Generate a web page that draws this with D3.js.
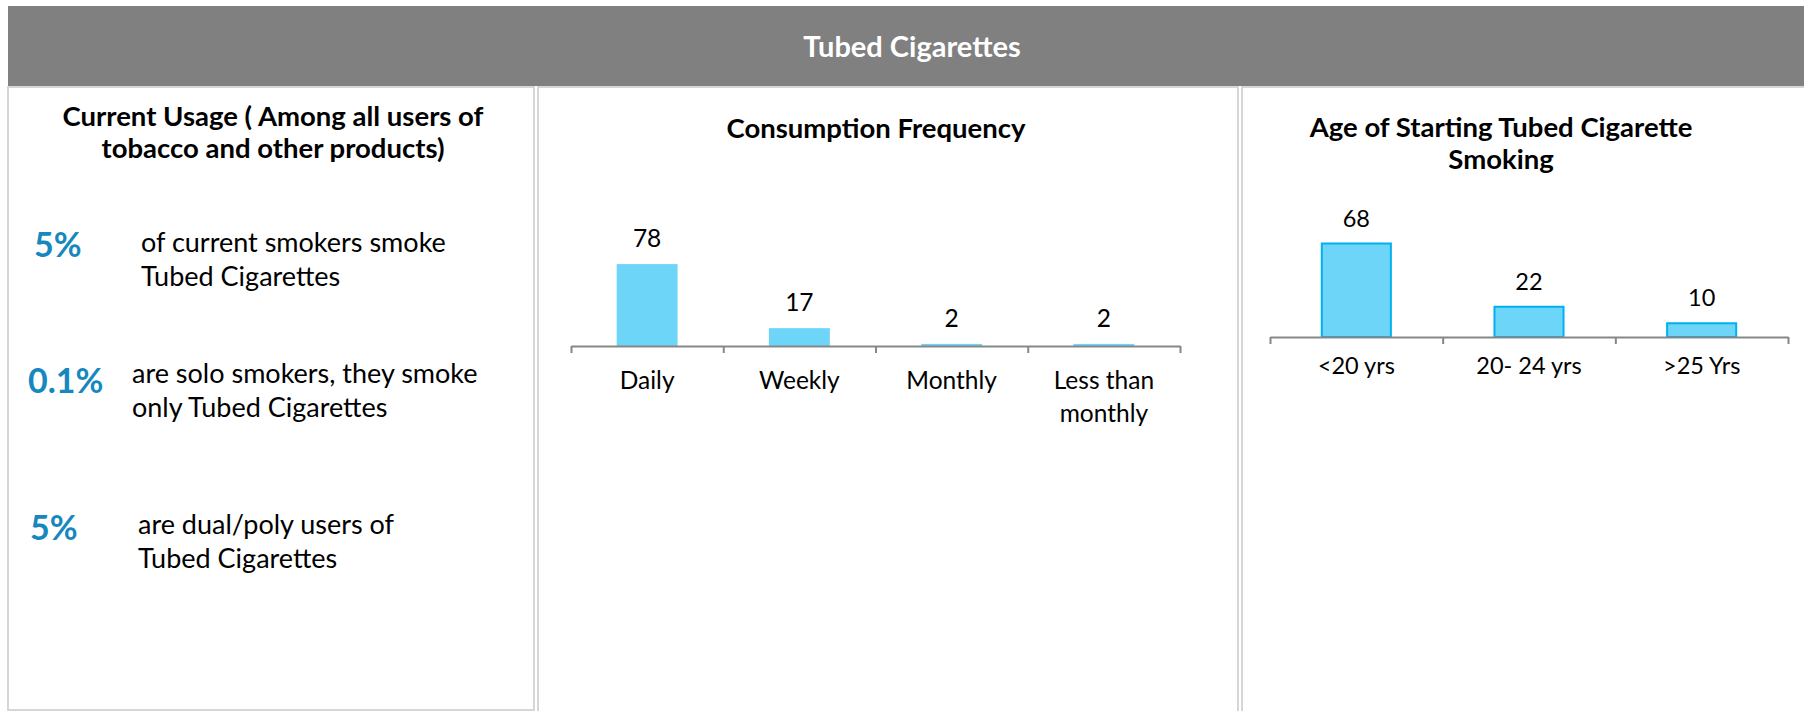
<!DOCTYPE html>
<html>
<head>
<meta charset="utf-8">
<script src="https://cdn.jsdelivr.net/npm/d3@7"></script>
<style>
  body { margin: 0; background: #fff; }
  svg { display: block; font-family: Lato, "Open Sans", sans-serif; }
</style>
</head>
<body>
<script>
// values
const freqCategories = ["Daily", "Weekly", "Monthly", "Less than monthly"];
const freqValues = [78, 17, 2, 2];

const ageCategories = ["<20 yrs", "20- 24 yrs", ">25 Yrs"];
const ageValues = [68, 22, 10];

const usageShares = ["5%", "0.1%", "5%"];
const usageTexts = [
    ["of current smokers smoke", "Tubed Cigarettes"],
    ["are solo smokers, they smoke", "only Tubed Cigarettes"],
    ["are dual/poly users of", "Tubed Cigarettes"],
];

const W = 1804, H = 711;
const BAR = "#6dd5f7", BAR_EDGE = "#00b0f0", AXIS = "#878787", PANEL = "#d6d6d6", BLUE = "#1788bd";

const svg = d3.select("body").append("svg")
    .attr("width", W)
    .attr("height", H);

// header band
svg.append("rect")
    .attr("x", 8).attr("y", 6)
    .attr("width", W - 8).attr("height", 80)
    .attr("fill", "#808080");
svg.append("text")
    .attr("x", 912).attr("y", 57)
    .attr("text-anchor", "middle")
    .attr("fill", "#fff")
    .attr("font-weight", "bold")
    .attr("font-size", 29)
    .text("Tubed Cigarettes");

// three panel boxes (the two right ones run past the bottom edge)
const panels = [
    {x0: 8, x1: 534, y1: 710},
    {x0: 538, x1: 1238, y1: 760},
    {x0: 1242, x1: 1830, y1: 760},
];
svg.selectAll(".panel")
    .data(panels)
    .enter().append("rect")
    .attr("class", "panel")
    .attr("x", d => d.x0)
    .attr("y", 87)
    .attr("width", d => d.x1 - d.x0)
    .attr("height", d => d.y1 - 87)
    .attr("fill", "none")
    .attr("stroke", PANEL)
    .attr("stroke-width", 2);

function title(lines, cx, y0, step) {
    svg.append("text")
        .attr("text-anchor", "middle")
        .attr("font-weight", "bold")
        .attr("font-size", 27.5)
        .attr("fill", "#000")
        .selectAll("tspan")
        .data(lines)
        .enter().append("tspan")
        .attr("x", cx)
        .attr("y", (d, i) => y0 + i * step)
        .text(d => d);
}

// left panel: usage figures
title(["Current Usage ( Among all users of", "tobacco and other products)"], 273, 126, 32);

const shareX = [34, 28, 30], shareY = [257, 393, 540];
const textX = [141, 132, 138], textY = [252, 383, 534];

svg.selectAll(".share")
    .data(usageShares)
    .enter().append("text")
    .attr("class", "share")
    .attr("x", (d, i) => shareX[i])
    .attr("y", (d, i) => shareY[i])
    .attr("fill", BLUE)
    .attr("font-weight", "bold")
    .attr("font-size", 34)
    .text(d => d);

svg.selectAll(".desc")
    .data(usageTexts)
    .enter().append("text")
    .attr("class", "desc")
    .attr("font-size", 27)
    .attr("fill", "#000")
    .each(function(lines, i) {
        d3.select(this).selectAll("tspan")
            .data(lines)
            .enter().append("tspan")
            .attr("x", textX[i])
            .attr("y", (d, j) => textY[i] + j * 34)
            .text(d => d);
    });

// wrap axis labels that are wider than a category slot
function wrap(sel, width) {
    sel.each(function() {
        const t = d3.select(this);
        const words = t.text().split(/\s+/);
        const y = t.attr("y");
        t.text(null);
        let line = [];
        let ts = t.append("tspan").attr("x", 0).attr("y", y).attr("dy", "0.71em");
        for (const w of words) {
            line.push(w);
            ts.text(line.join(" "));
            if (ts.node().getComputedTextLength() > width && line.length > 1) {
                line.pop();
                ts.text(line.join(" "));
                line = [w];
                ts = t.append("tspan").attr("x", 0).attr("dy", "1.33em").text(w);
            }
        }
    });
}

function barChart(o) {
    const n = o.categories.length;
    const g = svg.append("g");

    const x = d3.scaleBand()
        .domain(o.categories)
        .range([o.x0, o.x1])
        .paddingInner(0.6)
        .paddingOuter(0.3);
    const slots = d3.scaleLinear()
        .domain([0, n])
        .range([o.x0, o.x1]);
    const y = d3.scaleLinear()
        .domain([0, o.max])
        .range([o.base, o.top]);

    g.selectAll(".bar")
        .data(o.values)
        .enter().append("rect")
        .attr("class", "bar")
        .attr("x", (d, i) => x(o.categories[i]))
        .attr("y", d => y(d))
        .attr("width", x.bandwidth())
        .attr("height", d => y(0) - y(d))
        .attr("fill", BAR)
        .attr("stroke", o.edge ? BAR_EDGE : "none")
        .attr("stroke-width", 2);

    g.selectAll(".val")
        .data(o.values)
        .enter().append("text")
        .attr("class", "val")
        .attr("x", (d, i) => x(o.categories[i]) + x.bandwidth() / 2)
        .attr("y", d => y(d) - 17)
        .attr("text-anchor", "middle")
        .attr("font-size", o.font)
        .attr("fill", "#000")
        .text(d => d);

    // tick marks on slot boundaries, as in the source
    const tickAxis = g.append("g")
        .attr("transform", `translate(0,${o.base})`)
        .call(d3.axisBottom(slots).tickValues(d3.range(n + 1)).tickSize(7).tickFormat("").tickSizeOuter(0));
    tickAxis.selectAll("path, line")
        .attr("stroke", AXIS)
        .attr("stroke-width", 2);

    const labelAxis = g.append("g")
        .attr("transform", `translate(0,${o.base})`)
        .call(d3.axisBottom(x).tickSize(0).tickPadding(o.labelPad));
    labelAxis.select(".domain").remove();
    labelAxis.selectAll("text")
        .attr("font-size", o.font)
        .attr("font-family", "Lato, sans-serif")
        .attr("fill", "#000")
        .call(wrap, x.step() - 10);
}

title(["Consumption Frequency"], 876, 138, 32);
barChart({
    categories: freqCategories, values: freqValues,
    x0: 571, x1: 1180, base: 346, top: 241, max: 100,
    labelPad: 26, font: 24.5, edge: false,
});

title(["Age of Starting Tubed Cigarette", "Smoking"], 1501, 137, 32);
barChart({
    categories: ageCategories, values: ageValues,
    x0: 1270, x1: 1788, base: 337, top: 227, max: 80,
    labelPad: 20, font: 23.5, edge: true,
});
</script>
</body>
</html>
